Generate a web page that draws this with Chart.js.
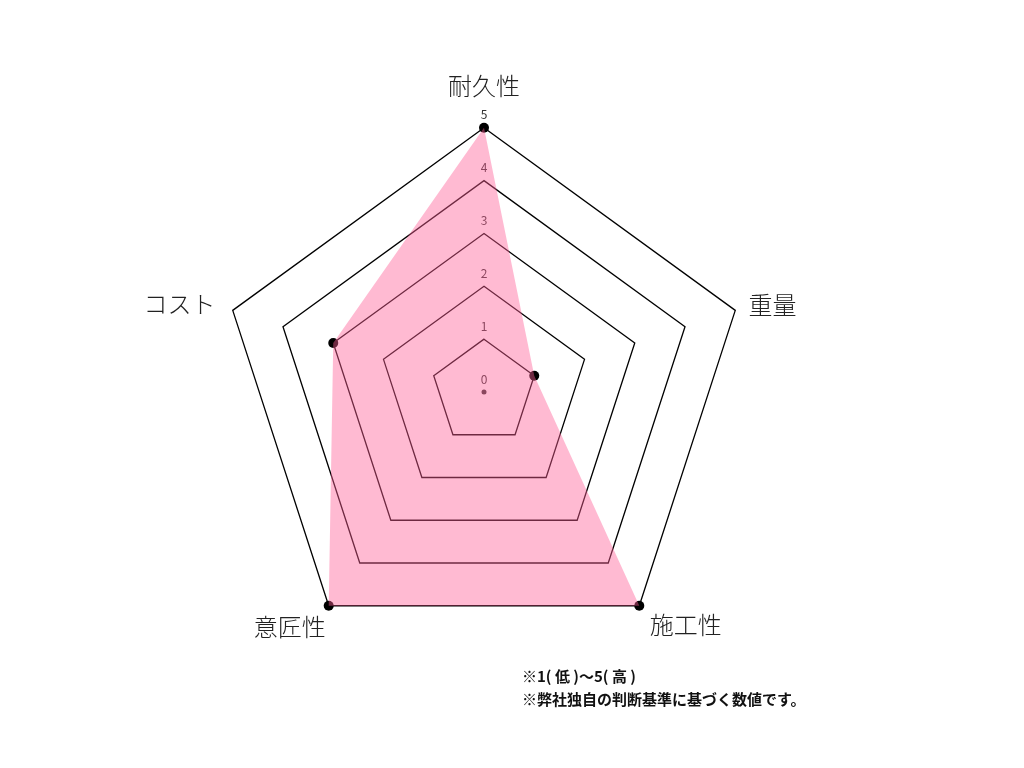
<!DOCTYPE html>
<html lang="ja">
<head>
<meta charset="utf-8">
<script src="https://cdn.jsdelivr.net/npm/chart.js@4.4.1/dist/chart.umd.min.js"></script>
<style>
  html, body { margin:0; padding:0; background:#fff; }
  #wrap { position:relative; width:1024px; height:768px; }
  #note { position:absolute; left:522px; top:664px; font-family:"Noto Sans CJK JP", sans-serif;
          font-size:15px; font-weight:bold; color:#111; line-height:23px; }
</style>
</head>
<body>
<div id="wrap">
  <canvas id="radar" width="1024" height="768"></canvas>
  <div id="note">※1( 低 )〜5( 高 )<br>※弊社独自の判断基準に基づく数値です。</div>
</div>
<script>
// ================= data =================
const labels = ['耐久性', '重量', '施工性', '意匠性', 'コスト'];
const values = [5, 1, 5, 5, 3];
const tickValues = [0, 1, 2, 3, 4, 5];

// label placement tweaks per corner (top, right, bottom-right, bottom-left, left)
const labelPad = [28, 14, 18, 5, 18];
const labelLineHeight = [1.2, 0.1, '10px', '34px', 0.1];

// tick numbers sit just above each ring, under the pink fill
const tickLabelPlugin = {
  id: 'tickLabels',
  beforeDatasetsDraw(chart) {
    const s = chart.scales.r;
    const ctx = chart.ctx;
    ctx.save();
    ctx.font = '12px "Noto Sans CJK JP", sans-serif';
    ctx.textAlign = 'center';
    ctx.textBaseline = 'middle';
    ctx.fillStyle = '#333';
    tickValues.forEach(v => {
      const p = s.getPointPositionForValue(0, v);
      ctx.fillText(String(v), p.x, p.y - 13);
    });
    // small dot at the centre
    ctx.beginPath();
    ctx.arc(s.xCenter, s.yCenter, 2.5, 0, Math.PI * 2);
    ctx.fill();
    ctx.restore();
  }
};

const ctx = document.getElementById('radar').getContext('2d');
const chart = new Chart(ctx, {
  type: 'radar',
  data: {
    labels: labels,
    datasets: [
      { // fill on top
        data: values,
        backgroundColor: 'rgba(255,94,151,0.43)',
        borderWidth: 0,
        pointRadius: 0,
        fill: true
      },
      { // black points underneath
        data: values,
        borderWidth: 0,
        backgroundColor: '#000',
        pointBackgroundColor: '#000',
        pointBorderWidth: 0,
        pointRadius: 5,
        showLine: false,
        fill: false
      }
    ]
  },
  options: {
    responsive: false,
    animation: false,
    layout: { padding: { top: 43, bottom: 82, left: 84, right: 140 } },
    plugins: { legend: { display: false }, tooltip: { enabled: false } },
    scales: {
      r: {
        min: 0,
        max: 5,
        ticks: { stepSize: 1, display: false },
        angleLines: { display: false },
        grid: { color: '#000', lineWidth: 1.3 },
        pointLabels: {
          padding: c => labelPad[c.index],
          color: '#222',
          font: c => ({ size: 24, weight: '300', family: '"Noto Sans CJK JP", sans-serif', lineHeight: labelLineHeight[c.index] })
        }
      }
    }
  },
  plugins: [tickLabelPlugin]
});
</script>
</body>
</html>
